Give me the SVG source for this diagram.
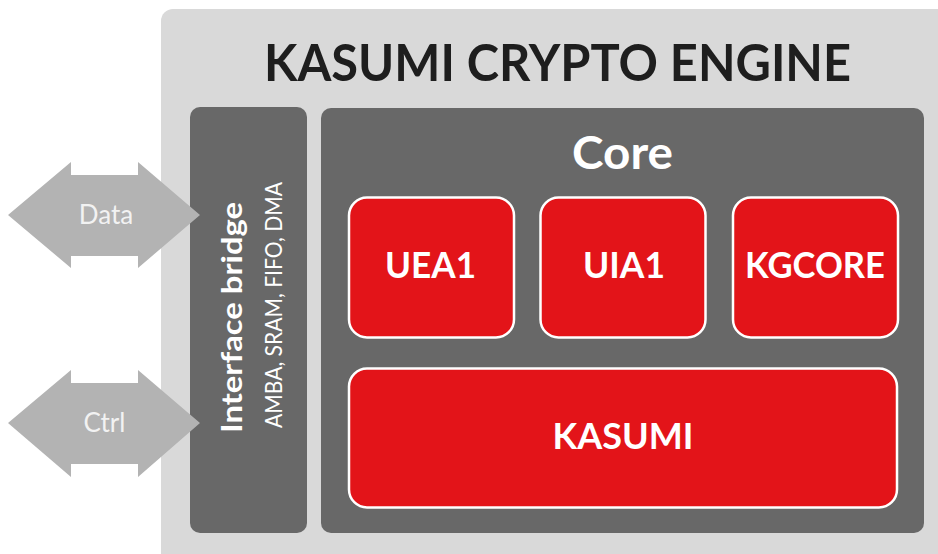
<svg xmlns="http://www.w3.org/2000/svg" width="938" height="554" viewBox="0 0 938 554">
  <style>
    .engine { fill: #d9d9d9; }
    .panel { fill: #686868; }
    .block { fill: #e31419; stroke: #ffffff; stroke-width: 2.5; }
    .port { fill: #b3b3b3; }
    .title { font-family: Lato, "Open Sans", "Liberation Sans", sans-serif; font-weight: bold; fill: #1e1e1e; }
    .lbl { font-family: Lato, "Open Sans", "Liberation Sans", sans-serif; font-weight: bold; fill: #ffffff; text-anchor: middle; }
    .sub { font-family: Lato, "Open Sans", "Liberation Sans", sans-serif; font-weight: normal; fill: #ffffff; text-anchor: middle; }
    .portlbl { font-family: Lato, "Open Sans", "Liberation Sans", sans-serif; font-weight: normal; fill: #f2f2f2; text-anchor: middle; font-size: 26px; }
  </style>

  <!-- Engine enclosure -->
  <g id="engine">
    <rect class="engine" x="161" y="9" width="820" height="600" rx="12"/>
    <text class="title" x="264" y="81" font-size="52" textLength="587" lengthAdjust="spacingAndGlyphs">KASUMI CRYPTO ENGINE</text>
  </g>

  <!-- Interface bridge -->
  <g id="interface-bridge">
    <rect class="panel" x="190" y="107" width="117" height="426" rx="10"/>
    <text class="lbl" font-size="28" transform="translate(242 317.5) rotate(-90)" textLength="231" lengthAdjust="spacingAndGlyphs">Interface bridge</text>
    <text class="sub" font-size="23" transform="translate(282 305) rotate(-90)" textLength="246" lengthAdjust="spacingAndGlyphs">AMBA, SRAM, FIFO, DMA</text>
  </g>

  <!-- Core -->
  <g id="core">
    <rect class="panel" x="321" y="108" width="603" height="425" rx="10"/>
    <text class="lbl" x="622.5" y="169" font-size="46" textLength="101" lengthAdjust="spacingAndGlyphs">Core</text>
  </g>

  <g id="uea1">
    <rect class="block" x="349" y="197.5" width="165" height="140" rx="18"/>
    <text class="lbl" x="430.5" y="278" font-size="37" textLength="91" lengthAdjust="spacingAndGlyphs">UEA1</text>
  </g>

  <g id="uia1">
    <rect class="block" x="540.5" y="197.5" width="165" height="140" rx="18"/>
    <text class="lbl" x="624" y="278" font-size="37" textLength="82" lengthAdjust="spacingAndGlyphs">UIA1</text>
  </g>

  <g id="kgcore">
    <rect class="block" x="733" y="197.5" width="165" height="140" rx="18"/>
    <text class="lbl" x="815" y="278" font-size="37" textLength="140" lengthAdjust="spacingAndGlyphs">KGCORE</text>
  </g>

  <g id="kasumi">
    <rect class="block" x="349" y="368.5" width="548" height="139" rx="18"/>
    <text class="lbl" x="623" y="449" font-size="37" textLength="141" lengthAdjust="spacingAndGlyphs">KASUMI</text>
  </g>

  <!-- Bidirectional ports into the interface bridge -->
  <g id="connectors">
    <g id="data-port">
      <polygon class="port" points="8,215 71,162 71,175 138,175 138,162 200,215 138,268 138,256 71,256 71,268"/>
      <text class="portlbl" x="106" y="224">Data</text>
    </g>
    <g id="ctrl-port">
      <polygon class="port" points="8,423 71,370 71,383 138,383 138,370 200,423 138,477 138,464 71,464 71,477"/>
      <text class="portlbl" x="104.5" y="432">Ctrl</text>
    </g>
  </g>
</svg>
